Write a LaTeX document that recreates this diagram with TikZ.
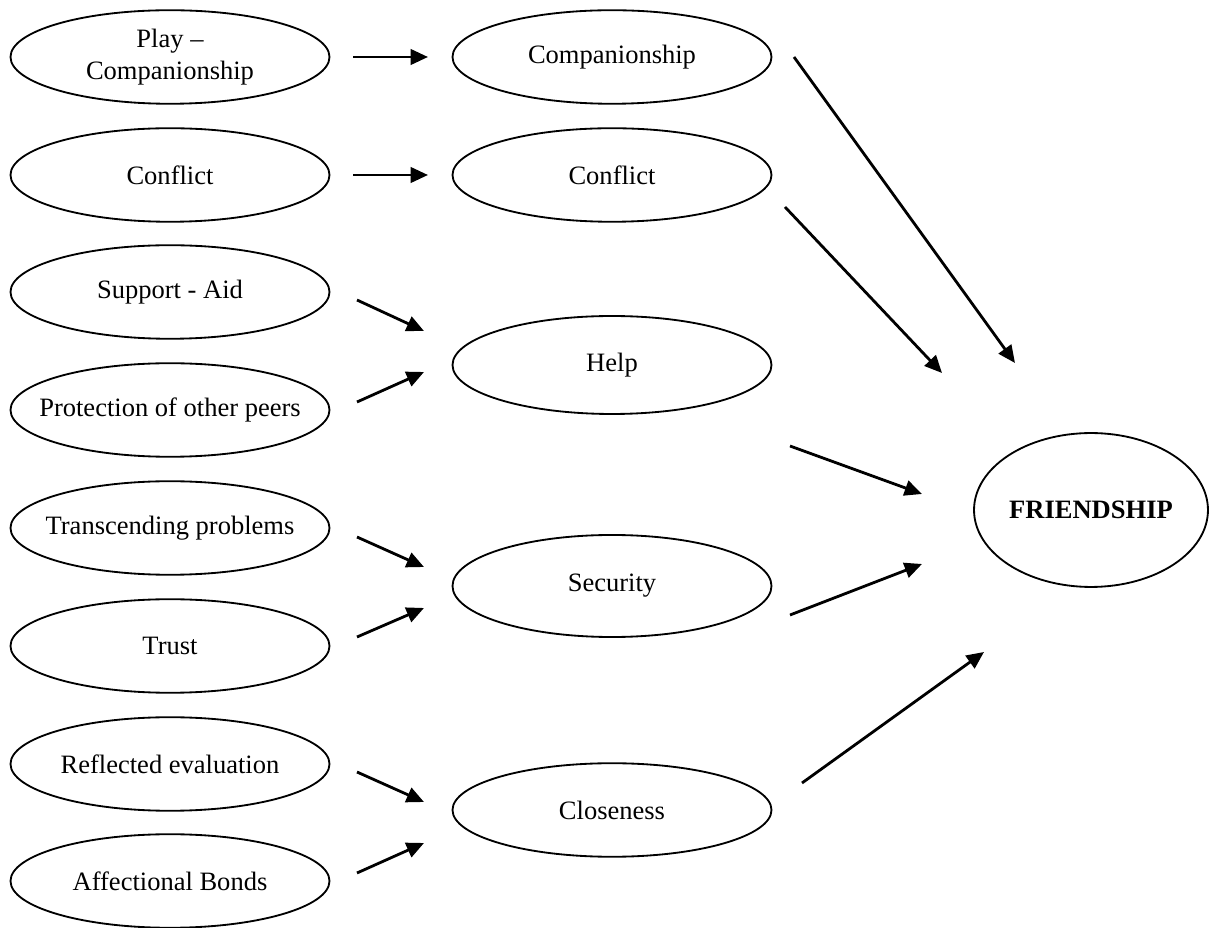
\documentclass[tikz,border=0pt]{standalone}
\usepackage{fontspec}
\setmainfont{Liberation Serif}
\usetikzlibrary{shapes.geometric,arrows.meta}
% zero-width line so the label never widens its ellipse
\newcommand{\lbl}[1]{\makebox[0pt][c]{#1}}
\begin{document}
\begin{tikzpicture}[x=0.5185pt,y=-0.5185pt,
  factor/.style={draw,ellipse,line width=0.95pt,inner sep=0pt,
    minimum width=165.4pt,minimum height=48.5pt,align=center,
    font=\fontsize{13.75}{16.5}\selectfont},
  outcome/.style={factor,minimum width=121.3pt,minimum height=79.8pt,
    font=\fontsize{13.75}{16.5}\selectfont\bfseries},
  link/.style={line width=1.45pt,-{Triangle[length=9pt,width=8pt]}}]
\useasboundingbox (0,0) rectangle (1212,928);

% first-order factors
\node[factor] (play)  at (170,57)  {\lbl{Play --}\\\lbl{Companionship}};
\node[factor] (confa) at (170,175) {\lbl{Conflict}};
\node[factor] (supp)  at (170,292) {\lbl{Support - Aid}};
\node[factor] (prot)  at (170,410) {\lbl{Protection of other peers}};
\node[factor] (trans) at (170,528) {\lbl{Transcending problems}};
\node[factor] (trust) at (170,646) {\lbl{Trust}};
\node[factor] (refl)  at (170,764) {\lbl{Reflected evaluation}};
\node[factor] (affb)  at (170,881) {\lbl{Affectional Bonds}};

% second-order factors
\node[factor] (comp)  at (612,57)  {\lbl{Companionship}};
\node[factor] (confb) at (612,175) {\lbl{Conflict}};
\node[factor,minimum height=50.8pt] (help) at (612,365) {\lbl{Help}};
\node[factor,minimum height=52.9pt] (secu) at (612,586) {\lbl{Security}};
\node[factor] (close) at (612,810) {\lbl{Closeness}};

% overall construct
\node[outcome] (friend) at (1091,510) {\lbl{FRIENDSHIP}};

% arrow ends (the arrows stop short of the ellipses)
\coordinate (play-o)  at (353,57);  \coordinate (comp-i1)  at (428,57);
\coordinate (confa-o) at (353,175); \coordinate (confb-i1) at (428,175);
\coordinate (supp-o)  at (357,300); \coordinate (help-i1)  at (424,331);
\coordinate (prot-o)  at (357,402); \coordinate (help-i2)  at (424,372);
\coordinate (trans-o) at (357,537); \coordinate (secu-i1)  at (424,567);
\coordinate (trust-o) at (357,637); \coordinate (secu-i2)  at (424,608);
\coordinate (refl-o)  at (357,772); \coordinate (close-i1) at (424,802);
\coordinate (affb-o)  at (357,873); \coordinate (close-i2) at (424,843);
\coordinate (comp-o)  at (794,57);  \coordinate (friend-i1) at (1015,363);
\coordinate (confb-o) at (785,207); \coordinate (friend-i2) at (942,373);
\coordinate (help-o)  at (790,446); \coordinate (friend-i3) at (922,494);
\coordinate (secu-o)  at (790,615); \coordinate (friend-i4) at (922,564);
\coordinate (close-o) at (802,783); \coordinate (friend-i5) at (984,652);

\draw[link] (play-o)  -- (comp-i1);
\draw[link] (confa-o) -- (confb-i1);
\draw[link] (supp-o)  -- (help-i1);
\draw[link] (prot-o)  -- (help-i2);
\draw[link] (trans-o) -- (secu-i1);
\draw[link] (trust-o) -- (secu-i2);
\draw[link] (refl-o)  -- (close-i1);
\draw[link] (affb-o)  -- (close-i2);
\draw[link] (comp-o)  -- (friend-i1);
\draw[link] (confb-o) -- (friend-i2);
\draw[link] (help-o)  -- (friend-i3);
\draw[link] (secu-o)  -- (friend-i4);
\draw[link] (close-o) -- (friend-i5);
\end{tikzpicture}
\end{document}
